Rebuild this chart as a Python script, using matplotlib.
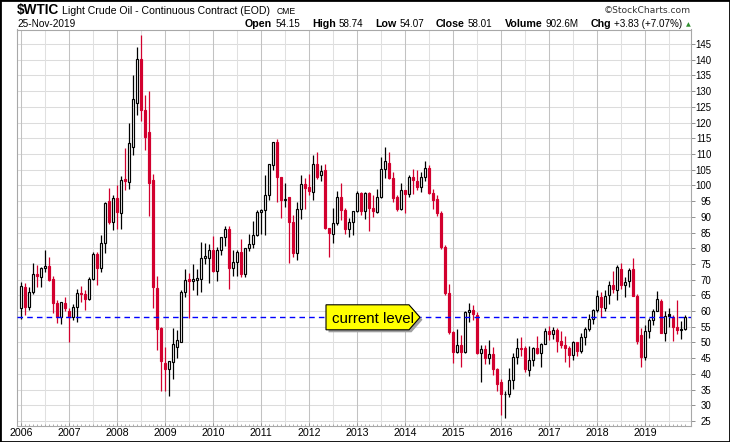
import matplotlib
matplotlib.use("Agg")
import matplotlib.pyplot as plt
from matplotlib.patches import Rectangle, Polygon
from matplotlib.ticker import FixedLocator, NullFormatter

W, H, DPI = 730, 442, 100

years = [str(y) for y in range(2006, 2020)]

opens = [61.0, 67.7, 61.2, 66.2, 71.8, 70.9, 73.7, 74.3, 70.2, 62.7, 58.2, 62.6,
         60.0, 58.0, 61.4, 65.7, 65.4, 63.8, 70.2, 78.2, 73.7, 81.6, 95.0, 88.4,
         95.9, 91.2, 101.9, 101.2, 112.3, 126.3, 140.3, 124.0, 117.1, 101.7, 67.3, 54.6,
         43.4, 41.5, 43.9, 48.6, 50.2, 66.2, 70.2, 69.5, 70.0, 70.1, 76.8, 76.9,
         79.4, 72.7, 79.4, 83.7, 86.0, 73.8, 75.7, 78.9, 71.8, 80.0, 81.4, 84.1,
         91.4, 92.2, 97.0, 106.6, 113.8, 102.7, 95.4, 96.4, 88.4, 78.6, 92.4, 100.4,
         99.6, 98.0, 106.8, 103.3, 104.9, 86.3, 84.4, 87.9, 96.4, 92.2, 86.0, 88.4,
         91.8, 97.5, 91.7, 97.5, 92.9, 91.4, 96.4, 105.1, 107.2, 102.3, 96.4, 92.5,
         98.5, 97.3, 102.8, 101.5, 99.6, 102.8, 105.4, 97.7, 95.6, 91.1, 80.5, 65.6,
         53.4, 47.1, 49.2, 47.1, 59.6, 60.2, 58.7, 46.6, 47.8, 45.0, 46.3, 41.4,
         37.5, 33.5, 33.5, 38.1, 45.5, 48.3, 48.1, 41.2, 44.4, 48.1, 46.8, 49.4,
         53.7, 52.8, 54.0, 50.6, 49.3, 48.3, 46.0, 50.2, 47.2, 51.7, 54.4, 57.4,
         60.4, 64.6, 61.0, 65.1, 68.3, 66.7, 73.3, 68.3, 69.6, 73.3, 64.8, 52.4,
         45.5, 53.7, 57.1, 60.0, 63.2, 53.1, 59.0, 58.0, 55.0, 54.0, 54.15]
highs = [69.2, 68.9, 67.7, 75.3, 74.7, 74.0, 79.4, 77.3, 71.0, 63.5, 62.7, 64.5,
         61.1, 62.3, 67.0, 67.9, 66.7, 70.7, 78.8, 78.8, 84.1, 94.7, 99.3, 97.0,
         100.1, 103.1, 111.9, 119.9, 135.1, 143.9, 147.8, 128.8, 130.0, 103.7, 71.0, 54.8,
         48.5, 43.3, 54.6, 54.0, 66.6, 73.4, 72.0, 75.0, 73.4, 82.1, 81.5, 81.4,
         83.9, 80.5, 83.2, 87.1, 87.2, 79.4, 79.3, 82.9, 80.0, 84.4, 88.6, 92.1,
         92.6, 103.4, 106.9, 113.9, 114.8, 102.8, 100.6, 96.4, 90.5, 94.7, 103.4, 102.4,
         103.7, 109.8, 110.5, 106.4, 106.8, 86.5, 92.9, 98.3, 100.6, 92.9, 89.6, 91.9,
         98.2, 98.0, 97.8, 97.8, 97.0, 99.0, 108.9, 112.3, 110.7, 104.4, 97.0, 100.8,
         98.6, 103.4, 105.2, 104.9, 104.3, 107.9, 106.5, 98.7, 96.8, 92.0, 81.0, 68.7,
         53.6, 54.4, 52.5, 59.9, 62.5, 61.9, 59.7, 49.2, 49.3, 50.8, 48.4, 42.0,
         38.4, 34.7, 41.9, 46.8, 51.3, 51.7, 49.0, 48.75, 48.4, 51.9, 49.9, 54.5,
         55.2, 54.9, 54.7, 53.8, 52.0, 48.9, 50.4, 50.2, 52.9, 54.8, 59.05, 60.5,
         66.7, 66.1, 66.6, 69.6, 72.9, 74.5, 75.3, 70.9, 73.8, 77.0, 65.3, 54.6,
         55.4, 57.8, 60.7, 66.4, 63.9, 60.0, 60.9, 58.7, 63.4, 56.9, 58.74]
lows = [57.5, 58.7, 60.3, 65.5, 67.7, 67.8, 72.3, 69.5, 59.4, 56.2, 55.9, 60.0,
        50.2, 57.2, 56.6, 62.8, 60.3, 63.4, 69.8, 68.3, 72.3, 78.4, 87.8, 85.9,
        86.1, 86.1, 98.5, 98.7, 109.8, 122.3, 120.4, 111.3, 90.3, 61.0, 47.6, 34.6,
        34.6, 33.0, 38.5, 45.0, 50.0, 64.6, 57.7, 66.8, 65.1, 66.2, 74.9, 68.9,
        72.4, 69.5, 77.8, 80.6, 66.9, 71.1, 71.3, 70.8, 70.8, 79.0, 80.2, 83.9,
        84.6, 84.1, 95.4, 105.0, 94.6, 89.7, 93.0, 75.4, 77.1, 76.2, 89.2, 92.5,
        97.0, 95.4, 102.0, 101.5, 86.1, 77.1, 81.8, 87.3, 89.0, 84.6, 83.7, 84.1,
        91.5, 90.5, 89.3, 85.6, 89.8, 91.1, 96.0, 102.3, 101.9, 94.7, 91.8, 92.2,
        91.2, 96.4, 97.4, 98.6, 98.0, 101.4, 97.2, 92.5, 90.4, 79.8, 65.0, 52.7,
        43.6, 46.8, 42.1, 46.7, 56.5, 57.1, 46.2, 37.3, 43.2, 43.2, 39.7, 34.5,
        26.9, 25.9, 32.7, 35.2, 43.0, 45.8, 40.6, 39.2, 42.5, 46.2, 42.2, 49.4,
        50.7, 51.2, 47.1, 48.2, 43.8, 42.05, 44.4, 45.6, 46.6, 49.1, 53.8, 55.8,
        59.8, 58.1, 59.95, 62.3, 65.8, 63.6, 67.0, 64.4, 67.8, 64.8, 49.4, 42.1,
        44.4, 51.4, 55.4, 60.0, 53.0, 50.6, 55.0, 50.5, 52.8, 51.0, 54.07]
closes = [67.9, 61.2, 66.2, 71.8, 71.3, 73.7, 74.4, 69.9, 62.7, 58.2, 63.0, 61.0,
          58.1, 61.4, 65.7, 65.3, 63.7, 70.2, 78.2, 73.8, 81.7, 94.3, 88.4, 95.9,
          91.6, 101.7, 101.5, 113.4, 127.4, 140.3, 124.0, 115.3, 100.7, 67.6, 54.3, 44.2,
          41.5, 44.2, 49.5, 50.8, 66.2, 69.9, 69.5, 70.2, 70.6, 76.8, 77.5, 79.4,
          72.7, 79.4, 83.7, 86.0, 73.8, 75.7, 78.9, 71.8, 80.0, 81.4, 84.1, 91.4,
          92.2, 97.0, 106.7, 113.8, 102.7, 95.4, 95.7, 88.4, 78.6, 92.4, 100.4, 99.1,
          98.3, 106.8, 102.8, 104.7, 86.3, 84.7, 87.9, 96.4, 92.2, 86.0, 88.4, 91.8,
          97.5, 91.7, 97.5, 92.9, 91.7, 96.4, 105.1, 107.9, 102.3, 96.1, 92.5, 98.5,
          97.3, 102.8, 101.7, 99.6, 102.8, 105.4, 97.5, 95.3, 91.1, 80.5, 65.6, 53.4,
          47.1, 49.2, 47.1, 59.6, 60.2, 59.0, 46.6, 47.8, 45.0, 46.3, 41.4, 36.8,
          33.5, 33.7, 38.1, 45.5, 48.3, 47.8, 41.4, 44.4, 48.1, 46.8, 49.4, 53.7,
          52.8, 54.0, 50.6, 49.3, 48.3, 46.0, 50.2, 47.2, 51.7, 54.4, 57.4, 60.4,
          64.7, 61.4, 64.9, 68.3, 67.0, 73.9, 68.3, 69.4, 73.0, 64.8, 50.6, 45.3,
          53.7, 57.1, 60.0, 63.7, 53.1, 58.4, 58.5, 55.0, 54.1, 54.2, 58.01]

y_ticks = list(range(25, 150, 5))

symbol = "$WTIC"
name = "Light Crude Oil - Continuous Contract (EOD)"
exchange = "CME"
date_label = "25-Nov-2019"
credit = "\u00a9StockCharts.com"
stat_labels = ["Open", "High", "Low", "Close", "Volume", "Chg"]
stat_values = ["54.15", "58.74", "54.07", "58.01", "902.6M", "+3.83 (+7.07%)"]
callout_text = "current level"

RED = "#D2002E"
plt.rcParams['font.family'] = ['Liberation Sans', 'DejaVu Sans']

fig = plt.figure(figsize=(W / DPI, H / DPI), dpi=DPI)
fig.patch.set_facecolor("white")

def fx(px):
    return px / W

def fy(py):
    return 1 - py / H

ax_l, ax_r, ax_t, ax_b = 17.3, 690.5, 29.5, 425.5
ax = fig.add_axes([fx(ax_l), fy(ax_b), (ax_r - ax_l) / W, (ax_b - ax_t) / H])

n = len(closes)
xs = list(range(n))

ppu = 3.1417
ax.set_ylim(145 - (ax_b - 44) / ppu, 145 + (44 - ax_t) / ppu)
ax.set_xlim((ax_l - 21) / 4, (ax_r - 21) / 4)

for v in y_ticks:
    ax.axhline(v, color="#dcdcdc", lw=0.75, zorder=0)
for i in xs:
    if i % 12 == 0:
        ax.axvline(i, color="#c2c2c2", lw=0.75, zorder=0)
    elif i % 12 == 6:
        ax.axvline(i, color="#e0e0e0", lw=0.75, zorder=0)

colors, faces, bottoms, heights = [], [], [], []
for i in xs:
    prev = closes[i - 1] if i > 0 else opens[i]
    col = RED if closes[i] < prev else "black"
    colors.append(col)
    faces.append(col if closes[i] < opens[i] else "white")
    bottoms.append(min(opens[i], closes[i]))
    heights.append(abs(closes[i] - opens[i]))

ax.vlines(xs, lows, highs, colors=colors, lw=0.9, zorder=2)
ax.bar(xs, heights, bottom=bottoms, width=0.74, color=faces, edgecolor=colors,
       linewidth=0.85, zorder=3)

ax.axhline(closes[-1], color="#0000FF", lw=1.0, ls=(0, (4, 3)), zorder=4)

for s in ax.spines.values():
    s.set_color("#a8a8a8")
    s.set_linewidth(0.8)
ax.yaxis.tick_right()
ax.yaxis.set_major_locator(FixedLocator(y_ticks))
ax.set_yticklabels([str(v) for v in y_ticks])
ax.tick_params(axis="y", which="major", length=3.0, width=0.7, color="#909090",
               labelsize=6.9, pad=12.0, direction="out")
for lab in ax.get_yticklabels():
    lab.set_horizontalalignment("right")

ax.xaxis.set_major_locator(FixedLocator([i for i in xs if i % 12 == 0]))
ax.set_xticklabels(years)
ax.xaxis.set_minor_locator(FixedLocator(xs))
ax.xaxis.set_minor_formatter(NullFormatter())
ax.tick_params(axis="x", which="major", length=2.5, width=0.7, color="#909090",
               labelsize=7.7, pad=2.0, direction="in")
ax.tick_params(axis="x", which="minor", length=1.6, width=0.6, color="#a0a0a0",
               direction="in")

fig.canvas.draw()
_, ly = ax.transData.transform((0, closes[-1]))
x0, x1, xt = 326, 409, 420
hh = 12.5
pts = [(x0, ly + hh), (x1, ly + hh), (xt, ly), (x1, ly - hh), (x0, ly - hh)]
shadow = Polygon([(px + 2.5, py - 2.5) for px, py in pts], closed=True,
                 facecolor="#a0a0a0", edgecolor="none", transform=None, zorder=5)
box = Polygon(pts, closed=True, facecolor="#FFFF00", edgecolor="black",
              lw=0.8, transform=None, zorder=6)
fig.patches.extend([shadow, box])
fig.text(fx(331.5), ly / H, callout_text, fontsize=10.8, va="center_baseline",
         ha="left", color="black", zorder=7)

fig.text(fx(17), fy(14.3), symbol, fontsize=9.8, fontweight="bold", va="baseline")
fig.text(fx(61.7), fy(14.3), name, fontsize=7.6, va="baseline")
fig.text(fx(277), fy(14.3), exchange, fontsize=6.2, va="baseline")
fig.text(fx(690.7), fy(13.3), credit, fontsize=6.6, va="baseline", ha="right",
         color="#333333", family="DejaVu Sans")
fig.text(fx(17.3), fy(26.7), date_label, fontsize=7.2, va="baseline")

renderer = fig.canvas.get_renderer()
pieces = []
for lab, val in zip(stat_labels, stat_values):
    t1 = fig.text(0, fy(26.7), lab, fontsize=7.7, fontweight="bold", va="baseline")
    t2 = fig.text(0, fy(26.7), val, fontsize=7.1, va="baseline")
    pieces.append((t1, t2))
widths = [(a.get_window_extent(renderer).width, b.get_window_extent(renderer).width)
          for a, b in pieces]
start, end = 245.0, 682.0
inner = 3.0
total_text = sum(a + b + inner for a, b in widths)
gap = (end - start - total_text) / (len(pieces) - 1)
xcur = start
for (t1, t2), (w1, w2) in zip(pieces, widths):
    t1.set_x(fx(xcur))
    t2.set_x(fx(xcur + w1 + inner))
    xcur += w1 + inner + w2 + gap
fig.text(fx(685.5), fy(26.3), "\u25b2", fontsize=4.5, color="#2f8f2f",
         va="baseline", family="DejaVu Sans")

fig.patches.append(Rectangle((0, 0), 1, 1, transform=fig.transFigure, fill=False,
                             edgecolor="black", lw=2.0, zorder=10))

fig.savefig("out.png", dpi=DPI, facecolor="white")
